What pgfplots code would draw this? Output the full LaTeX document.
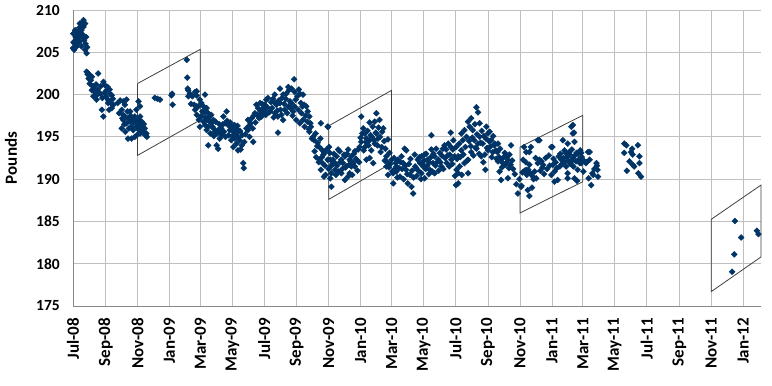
\documentclass[border=0pt]{standalone}
\usepackage{fontspec}
\setmainfont{Carlito}
\usepackage{pgfplots}
\pgfplotsset{compat=1.18}
\usepackage{pgfplotstable}
\definecolor{navy}{RGB}{0,51,102}
\definecolor{gridc}{RGB}{191,191,191}
\definecolor{axc}{RGB}{134,134,134}
\definecolor{boxc}{RGB}{64,64,64}
% day = days since 1 Jul 2008, w = weight in pounds
\pgfplotstableread{
d w
0 205.5
0.6 207.2
1 206.2
2 206.1
2 205.3
3 207.3
4 207.6
5 206.8
7 206.6
7 205.7
8 206.5
9 207.0
10 206.1
10 207.4
11 206.6
12 207.9
13 206.8
13 206.3
13 208.4
14 207.3
16 207.6
16 207.0
16 205.7
17 208.1
18 206.9
19 208.6
20 208.8
20 208.0
20 207.0
21 206.4
23 208.4
23 205.3
24 206.0
25 206.8
26 204.9
27 205.6
26 202.7
28 202.4
29 202.5
30 201.9
32 202.3
32 201.3
34 201.7
36 202.1
36 200.5
38 201.0
39 200.9
39 199.8
41 200.6
42 200.3
44 201.2
45 199.9
45 199.4
47 200.6
48 202.5
50 200.2
52 200.1
53 201.0
55 198.2
56 199.6
58 201.5
58 197.4
60 200.2
61 201.1
63 199.8
64 200.5
66 200.9
67 199.4
67 199.0
69 198.2
70 200.6
71 200.1
72 199.0
74 199.9
74 198.4
76 199.5
77 198.8
85 199.0
88 197.8
90 199.3
93 198.2
93 196.0
94 197.2
96 199.2
96 197.6
96 197.0
98 196.5
99 198.8
99 197.4
100 195.6
102 199.4
102 196.6
104 198.0
105 197.2
105 194.8
107 196.0
109 196.8
109 198.0
110 197.5
112 196.2
112 194.8
113 197.0
115 195.8
116 196.7
118 195.0
118 197.4
120 196.8
121 196.2
121 198.2
122 195.2
124 197.0
125 199.2
125 196.4
126 195.8
127 196.9
128 198.6
128 197.4
128 195.4
129 196.3
131 196.8
132 195.9
134 195.6
135 196.5
137 196.0
138 195.2
140 195.4
141 195.0
156 199.6
161 199.5
166 199.4
188 199.9
189 200.1
190 198.8
217 204.1
218 202.0
219 200.7
220 199.8
220 200.5
223 200.1
225 198.9
228 199.8
231 198.8
233 200.3
233 198.2
236 199.9
236 197.6
236 200.4
236 198.6
239 198.6
240 197.0
242 199.4
242 196.2
245 199.0
245 197.4
247 198.0
249 198.6
249 196.8
250 197.9
252 198.2
252 196.4
252 200.0
253 197.3
255 198.4
255 195.8
256 197.0
258 197.8
258 196.2
258 194.0
260 196.9
261 197.4
262 195.4
264 197.6
264 196.6
266 196.2
268 197.0
268 196.0
269 195.1
271 195.6
272 196.8
274 194.0
275 195.4
277 193.6
277 195.8
279 196.5
280 194.8
281 195.4
283 196.0
284 195.2
286 196.5
287 197.4
288 195.6
290 196.6
291 195.0
293 198.0
294 196.9
296 196.4
297 195.2
299 195.8
300 196.7
302 196.2
302 194.6
304 195.1
306 195.6
306 193.8
308 196.4
309 196.0
309 194.8
311 195.2
312 195.4
312 194.2
314 196.3
315 195.8
315 193.4
316 194.9
318 194.6
319 195.7
320 193.5
322 194.0
323 195.2
325 191.9
326 191.3
327 194.4
329 195.3
331 196.0
334 195.8
334 197.0
336 196.3
337 195.0
339 196.6
341 197.2
343 196.0
344 194.4
345 197.5
347 197.8
348 196.7
350 198.8
351 197.6
353 198.4
355 197.2
357 199.0
358 198.0
360 197.8
360 197.4
361 198.9
363 198.4
365 198.1
366 198.8
368 197.6
369 199.4
371 198.5
372 199.6
374 197.9
376 198.0
378 199.1
380 198.4
382 199.5
383 197.3
385 200.0
385 197.8
386 199.0
388 198.8
390 198.1
391 197.4
391 195.5
393 199.3
395 200.7
395 199.0
396 198.2
398 197.6
399 199.6
401 200.0
401 197.0
403 198.9
404 198.2
406 199.5
407 200.1
409 197.8
411 200.9
411 198.6
412 200.5
414 199.2
415 198.4
417 200.7
417 199.0
419 197.5
420 198.0
422 201.8
423 200.3
423 198.6
425 199.4
426 197.0
428 199.8
430 198.2
431 200.6
433 200.1
433 196.6
435 199.0
436 197.8
438 198.6
439 200.0
439 197.0
441 198.8
442 196.2
444 197.5
445 198.6
447 196.8
448 198.0
450 195.9
451 197.4
451 195.6
453 196.6
454 196.2
456 194.8
458 195.0
460 194.6
461 193.3
463 195.4
464 192.6
466 193.9
467 194.3
469 192.0
470 193.8
470 192.3
472 194.8
473 196.6
473 191.1
475 192.6
476 193.4
476 191.9
478 192.9
479 193.1
479 190.3
481 191.6
482 190.5
484 193.5
486 192.3
486 196.2
488 191.2
487 196.2
489 193.8
490 193.1
491 192.3
491 190.1
492 191.5
493 190.7
493 189.1
495 191.8
496 192.3
498 193.0
500 191.9
500 191.1
502 190.5
503 192.7
504 191.6
506 193.5
507 190.9
509 193.3
510 192.0
512 192.3
512 190.7
514 191.2
515 191.9
517 192.9
519 192.7
519 189.9
520 191.4
522 191.5
523 193.0
525 193.5
525 190.3
527 191.7
528 192.3
528 190.7
530 192.1
531 192.7
531 191.5
533 190.5
535 191.9
536 193.0
538 191.5
538 193.3
540 192.4
541 192.3
543 191.0
544 193.5
546 192.0
547 193.8
549 194.9
550 197.4
550 194.4
552 195.4
554 196.0
555 193.4
557 195.4
557 193.8
559 194.4
560 194.8
560 192.3
562 195.7
564 194.0
566 196.7
566 194.6
566 192.5
568 195.2
569 193.4
570 195.0
572 196.2
573 191.9
575 194.6
576 196.8
576 194.2
578 195.5
579 197.8
579 195.4
581 194.0
582 194.8
583 196.1
585 197.0
586 195.0
587 193.2
589 193.8
590 195.6
592 196.0
594 194.5
595 192.2
596 193.6
598 192.7
598 191.5
600 192.0
601 194.7
601 190.5
603 191.4
604 193.1
606 191.8
608 192.3
609 190.9
611 190.7
611 189.5
613 192.5
614 191.2
616 191.9
617 190.9
617 191.5
619 190.2
620 192.3
622 191.3
624 190.3
625 192.0
627 192.7
628 191.2
630 191.9
631 190.0
633 193.6
634 191.6
636 193.4
636 191.1
638 190.6
639 189.5
641 191.8
643 190.5
644 192.4
646 189.1
647 191.0
649 188.3
650 190.2
652 192.9
653 191.5
655 191.3
656 190.4
658 192.3
659 191.0
661 192.6
662 191.9
664 190.0
665 192.7
665 190.7
667 191.8
668 191.5
670 192.2
671 192.9
671 190.1
673 191.2
674 193.0
676 191.6
677 192.3
679 190.6
680 192.0
681 191.1
683 192.6
684 195.2
684 193.5
686 190.9
687 191.9
688 193.0
690 192.7
690 190.7
692 191.6
693 193.6
695 192.0
697 192.3
698 191.0
700 193.1
701 192.0
703 191.5
704 192.8
706 193.6
707 191.2
709 194.0
710 192.5
712 193.5
713 191.9
715 192.8
716 194.2
718 191.5
719 192.9
721 195.5
721 193.8
722 192.3
724 191.8
725 193.5
726 194.6
728 192.7
729 190.4
731 189.3
731 193.8
732 191.1
733 192.4
735 190.7
735 192.7
735 189.5
737 194.2
738 191.5
739 192.6
741 193.4
741 195.4
742 190.5
744 194.6
745 192.9
747 195.8
747 191.9
749 193.8
751 195.0
752 192.2
754 196.8
754 192.3
754 190.7
756 194.5
757 196.2
759 193.9
760 197.2
760 193.2
762 194.9
763 195.8
764 192.8
766 194.6
767 196.5
768 193.7
770 198.5
770 193.6
771 195.3
773 197.9
773 194.2
775 193.0
776 196.6
776 195.0
778 194.3
779 192.7
780 195.7
782 194.2
783 192.0
784 195.1
786 192.9
787 191.1
788 194.8
789 196.2
790 193.7
792 195.4
792 193.4
794 194.5
795 195.6
797 193.9
798 194.6
799 192.6
801 193.2
802 195.1
804 194.0
805 194.2
807 193.4
808 192.4
810 193.2
811 194.2
811 192.1
813 192.6
814 190.9
815 193.6
817 192.3
817 189.9
819 191.4
820 191.9
822 192.6
824 193.1
825 191.7
827 192.7
828 192.0
830 192.3
830 190.1
832 191.3
833 192.9
835 191.7
836 194.0
838 192.2
840 191.2
843 190.6
846 189.4
849 188.3
852 190.0
855 189.1
856 189.2
858 190.8
859 192.3
861 193.8
862 191.0
864 192.0
865 193.2
865 191.1
866 190.5
868 188.7
869 191.1
871 193.2
871 191.7
871 190.7
871 188.0
873 190.7
874 193.8
876 189.0
878 190.3
879 190.0
881 190.9
883 192.5
884 190.1
887 194.6
887 191.9
890 194.6
890 192.3
892 191.0
894 192.1
896 191.4
897 191.7
899 190.6
902 192.5
905 191.2
908 192.8
910 191.6
913 193.8
913 190.5
915 193.8
916 191.7
917 192.4
919 190.9
919 189.7
921 192.0
923 191.3
925 189.9
927 192.7
929 191.5
930 193.0
932 192.3
933 191.8
935 194.6
936 192.5
938 193.4
938 192.0
940 193.1
941 191.5
942 192.6
944 194.2
944 190.7
944 190.1
945 192.2
947 193.2
948 192.9
949 191.8
951 192.1
951 196.2
952 193.5
954 196.4
954 195.4
954 192.5
955 191.5
956 195.5
957 194.4
957 190.1
958 192.8
960 192.1
961 193.1
962 189.8
963 191.1
964 193.0
965 192.3
967 191.9
968 193.4
970 193.1
970 191.9
971 192.6
973 192.1
974 190.9
976 192.1
979 191.9
980 192.0
983 193.2
984 190.1
986 193.2
986 192.3
989 189.3
991 190.7
993 190.5
995 191.2
999 191.9
1000 191.6
1001 191.1
1002 190.3
1052 194.2
1052 193.1
1056 194.0
1057 191.0
1062 192.1
1065 193.2
1067 193.6
1068 192.9
1068 191.7
1071 191.5
1078 194.0
1079 190.7
1081 192.7
1081 191.9
1084 190.3
1258 179.05
1262 181.1
1263 185.05
1275 183.1
1305 183.9
1308 183.5
}\weights

\begin{document}
\begin{tikzpicture}
\begin{axis}[
  scale only axis, width=688bp, height=296bp,
  xmin=0, xmax=1313, ymin=175, ymax=210,
  clip=false,
  axis lines=left,
  axis line style={-, draw=axc, line width=0.9bp},
  xtick={0,62,123,184,243,304,365,427,488,549,608,669,730,792,853,914,973,1034,1095,1157,1218,1279},
  xticklabels={Jul-08,Sep-08,Nov-08,Jan-09,Mar-09,May-09,Jul-09,Sep-09,Nov-09,Jan-10,Mar-10,May-10,Jul-10,Sep-10,Nov-10,Jan-11,Mar-11,May-11,Jul-11,Sep-11,Nov-11,Jan-12},
  ytick={175,180,185,190,195,200,205,210},
  grid=major,
  major grid style={draw=gridc, line width=0.8bp},
  major tick length=0pt,
  /pgf/number format/assume math mode=true,
  xticklabel style={font=\bfseries\fontsize{17bp}{20bp}\selectfont, rotate=90, anchor=east, inner xsep=12bp, inner ysep=0pt},
  yticklabel style={font=\bfseries\fontsize{15.5bp}{18bp}\selectfont, anchor=east, inner xsep=13bp, inner ysep=0pt},
  ylabel={Pounds},
  ylabel style={font=\bfseries\fontsize{17bp}{20bp}\selectfont, at={(axis description cs:-0.090,0.5)}, anchor=center},
]
\addplot[only marks, mark=square*, mark size=2.1bp, mark options={rotate=45, fill=navy, draw=navy}] table[x=d, y=w] {\weights};
\addplot[boxc, line width=0.8bp, mark=none] coordinates {(123,201.3) (243,205.35) (243,197.0) (123,192.8) (123,201.3)};
\addplot[boxc, line width=0.8bp, mark=none] coordinates {(488,196.3) (608,200.5) (608,191.9) (488,187.6) (488,196.3)};
\addplot[boxc, line width=0.8bp, mark=none] coordinates {(853,193.8) (973,197.55) (973,189.7) (853,186.0) (853,193.8)};
\addplot[boxc, line width=0.8bp, mark=none] coordinates {(1218,185.25) (1313,189.3) (1313,180.8) (1218,176.7) (1218,185.25)};
\end{axis}
\pgfresetboundingbox
\path[use as bounding box] (-73bp,-80bp) rectangle (699bp,306bp);
\end{tikzpicture}
\end{document}
